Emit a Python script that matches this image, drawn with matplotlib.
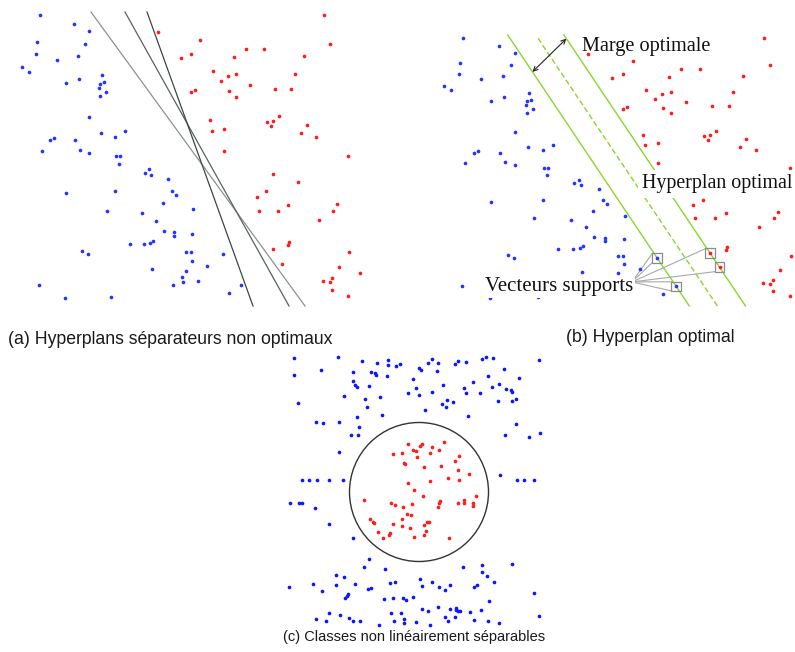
import numpy as np
import matplotlib.pyplot as plt
from matplotlib.patches import Circle

# ---------------------------------------------------------------------------
# Two-class data used in panels (a) and (b)  (feature space, arbitrary units)
# ---------------------------------------------------------------------------
blue_x = [40, 74, 89, 37, 85, 36, 78, 57, 22, 29, 102, 66, 79, 104, 100, 99, 106, 100,
          89, 101, 125, 115, 54, 50, 75, 42, 80, 89, 116, 120, 119, 149, 145, 151, 168,
          66, 115, 172, 176, 163, 193, 107, 142, 156, 164, 174, 174, 192, 130, 144, 150,
          153, 82, 88, 186, 191, 192, 152, 186, 182, 183, 173, 198, 39, 65, 111, 223,
          207, 241, 229]
blue_y = [295, 286, 279, 268, 266, 256, 254, 250, 243, 238, 235, 227, 231, 228, 226, 222,
          218, 214, 193, 177, 179, 173, 172, 170, 170, 159, 160, 157, 154, 154, 146, 141,
          137, 135, 131, 117, 119, 119, 115, 107, 101, 99, 97, 89, 79, 78, 74, 76, 66, 66,
          67, 69, 59, 56, 58, 58, 49, 41, 39, 33, 28, 25, 29, 25, 12, 13, 56, 44, 25, 17]

red_x = [158, 200, 191, 181, 195, 191, 324, 330, 246, 264, 234, 304, 213, 228, 236, 221,
         295, 250, 229, 275, 291, 236, 210, 212, 224, 267, 273, 271, 279, 307, 301, 316,
         224, 348, 273, 298, 266, 257, 259, 278, 288, 337, 333, 319, 289, 288, 273, 349,
         282, 339, 360, 332, 323, 330, 332, 348]
red_y = [278, 270, 256, 252, 220, 218, 295, 266, 261, 261, 253, 254, 239, 234, 236, 229,
         236, 225, 219, 221, 221, 213, 190, 179, 181, 188, 189, 184, 194, 185, 177, 173,
         159, 154, 136, 128, 119, 113, 99, 99, 105, 106, 99, 90, 68, 65, 61, 58, 46, 43,
         37, 32, 29, 28, 20, 14]

# Arbitrary (non-optimal) separating lines of panel (a): endpoints
naive_x0 = [91, 125, 147]
naive_y0 = [298, 298, 298]
naive_x1 = [305, 289, 253]
naive_y1 = [4, 4, 4]

# Optimal hyperplane y = slope * x + c and its margins
slope = -1.72
c_blue = 439.6
c_mid = 485.2
c_red = 530.8
margin_y = [3.7, 298.3]

# Support vectors
sv_blue_x = [223, 241]
sv_blue_y = [56, 25]
sv_red_x = [273, 282]
sv_red_y = [61, 46]

# ---------------------------------------------------------------------------
# Non linearly separable classes, panel (c)
# ---------------------------------------------------------------------------
ring_x = [-125, -81, -57, -42, -31, -31, -23, -19, -125, -98, -66, -48, -44, -43, -32, -6,
          -66, -64, -62, -50, -11, -75, -39, -54, -121, -52, -37, -62, -103, -96, -80, -60,
          -68, -61, -80, 13, 9, 19, 0, 2, 18, 39, 36, 47, 63, 67, 74, 120, 85, 69, 100, 54,
          24, -3, 45, 73, 80, 87, 92, 93, 13, 0, 47, 61, 97, 93, 79, 28, 34, 23, 27, 6, 49,
          97, 121, 86, 110,
          -117, -110, -102, -90, -76, 81, 98, 105, 115, -129, -120, -117, -104, -90, -66,
          -50, -55, -34, -83, -75, -130, -106, -83, -64, -97, -51, -48, -71, -72, -74, -29,
          -24, -35, -26, -16, -13, -6, -90, -79, -70, -103, -93, -66, -59, -40, -28, -18,
          -25, -15, -15, 44, 63, 93, 63, 68, 75, 1, 13, 3, 20, 26, 31, 55, 58, 115, 70, 3,
          9, 19, 31, 37, 37, 39, 41, 51, 62, 26, 36, 120, -3, 11, 29, 55, 69, 80]
ring_y = [134, 135, 131, 129, 132, 127, 126, 128, 117, 122, 120, 120, 119, 117, 116, 113,
          111, 107, 105, 106, 99, 96, 95, 93, 89, 85, 77, 75, 70, 69, 70, 65, 57, 57, 40,
          133, 129, 129, 124, 122, 121, 131, 128, 130, 133, 135, 134, 132, 123, 116, 114,
          110, 107, 104, 104, 105, 108, 103, 102, 100, 100, 97, 99, 99, 93, 91, 91, 92, 90,
          88, 85, 82, 76, 68, 59, 57, 55,
          12, 12, 12, 12, 12, 17, 12, 12, 12, -11, -11, -11, -16, -32, -46,
          -67, -75, -77, -83, -85, -95, -92, -93, -92, -99, -97, -96, -102, -104, -106, -91,
          -90, -107, -106, -106, -108, -105, -121, -123, -126, -127, -129, -129, -129, -133,
          -121, -121, -129, -127, -131, -75, -73, -72, -80, -84, -90, -87, -90, -94, -95,
          -98, -93, -95, -93, -101, -109, -117, -119, -115, -117, -116, -118, -119, -119,
          -120, -118, -125, -125, -124, -130, -133, -129, -128, -129, -131]

core_x = [-11, -26, -17, -6, -15, -14, -11, 25, 3, 1, 13, -3, 20, 11, 40, -2, 36, 5, 22,
          39, 50, 29, 40, 11, -5, -55, -28, -24, -16, -7, -12, -8, -17, -49, -46, -45, -26,
          -17, -9, -41, -29, -30, -36, -5, 4, 57, 21, 20, 39, 45, 45, 54, 54, 19, 8, 10, 5,
          7, 5, 30]
core_y = [48, 38, 39, 42, 29, 28, 9, 50, 48, 46, 45, 41, 42, 39, 36, 35, 31, 25, 26, 22,
          18, 14, 12, 11, 2, -8, -11, -13, -15, -12, -22, -23, -27, -27, -30, -31, -32, -34,
          -36, -40, -41, -43, -46, -45, -4, -4, -9, -11, -11, -8, -11, -11, -14, -15, -30,
          -30, -33, -39, -43, -46]

circle_radius = 69.5

# ---------------------------------------------------------------------------
W, H = 795, 652
fig = plt.figure(figsize=(W / 100, H / 100), dpi=100)

BLUE = '#2236ff'
RED = '#ff1c1c'
GREEN = '#8ad62c'


def px_axes(left, top, width, height):
    a = fig.add_axes([left / W, 1 - (top + height) / H, width / W, height / H])
    a.set_axis_off()
    return a


def fig_text(x, y, s, **kw):
    return fig.text(x / W, 1 - y / H, s, va='center', ha='left', **kw)


# ----- (a) non-optimal separating hyperplanes -----
ax_a = px_axes(0, 0, 380, 310)
ax_a.set_xlim(0, 380)
ax_a.set_ylim(0, 310)
ax_a.scatter(blue_x, blue_y, s=7, c=BLUE, linewidths=0, zorder=3)
ax_a.scatter(red_x, red_y, s=7, c=RED, linewidths=0, zorder=3)
for x0, y0, x1, y1, col in zip(naive_x0, naive_y0, naive_x1, naive_y1,
                               ['#8a938f', '#58625f', '#3e4644']):
    ax_a.plot([x0, x1], [y0, y1], color=col, lw=0.9, zorder=2)

# ----- (b) optimal hyperplane -----
ax_b = px_axes(420, 0, 410, 310)
ax_b.set_xlim(-0.6, 386.2)
ax_b.set_ylim(-0.7, 336.3)
ax_b.scatter(blue_x, blue_y, s=7, c=BLUE, linewidths=0, zorder=3)
ax_b.scatter(red_x, red_y, s=7, c=RED, linewidths=0, zorder=3)

ys = np.array(margin_y)
for c, ls in [(c_blue, '-'), (c_mid, (0, (4, 2))), (c_red, '-')]:
    yy = ys.copy()
    if c == c_mid:
        yy[1] = 296.0
    ax_b.plot((yy - c) / slope, yy, color=GREEN, lw=1.0, ls=ls, zorder=2)

# margin arrow between the two margin hyperplanes
xa, xb = 105.5, 137.5
ax_b.annotate('', xy=(xb, slope * xb + c_red), xytext=(xa, slope * xa + c_blue),
              arrowprops=dict(arrowstyle='<->', color='#222222', lw=0.8,
                              shrinkA=0, shrinkB=0, mutation_scale=8), zorder=4)

# support vector boxes
sv_x = sv_blue_x + sv_red_x
sv_y = sv_blue_y + sv_red_y
ax_b.scatter(sv_x, sv_y, s=48, marker='s', facecolors='none', edgecolors='#8c8c8c',
             linewidths=0.9, zorder=4)

# callout lines from the label to the support vector boxes
apex = (199.4, 29.8)
hx, hy = 4.3, 5.0
corners = [(sv_blue_x[0] - hx, sv_blue_y[0] + hy), (sv_blue_x[0] - hx, sv_blue_y[0] - hy),
           (sv_blue_x[1] - hx, sv_blue_y[1] + hy), (sv_blue_x[1] - hx, sv_blue_y[1] - hy),
           (sv_red_x[0] - hx, sv_red_y[0] + hy), (sv_red_x[1] - hx, sv_red_y[1] - hy)]
for cx, cy in corners:
    ax_b.plot([apex[0], cx], [apex[1], cy], color='#a8a8a8', lw=0.8, zorder=2)

serif = dict(family='Liberation Serif', color='#111111')
fig_text(582, 47, 'Marge optimale', fontsize=14.6, **serif)
fig_text(642, 184, 'Hyperplan optimal', fontsize=14.4,
         bbox=dict(facecolor='white', edgecolor='none', pad=3), **serif)
fig_text(485, 287, 'Vecteurs supports', fontsize=15,
         bbox=dict(facecolor='white', edgecolor='none', pad=1), **serif)

# ----- (c) non linearly separable classes -----
ax_c = px_axes(280, 350, 270, 280)
ax_c.set_xlim(-139, 131)
ax_c.set_ylim(-138, 142)
ax_c.scatter(ring_x, ring_y, s=7, c='#0b18ff', linewidths=0, zorder=3)
ax_c.scatter(core_x, core_y, s=7, c=RED, linewidths=0, zorder=3)
ax_c.add_patch(Circle((0, 0), circle_radius, fill=False, ec='#333333', lw=1.0, zorder=2))

# ----- captions -----
cap = dict(family='Liberation Sans', color='#1a1a1a')
fig_text(8, 340, '(a) Hyperplans séparateurs non optimaux', fontsize=12.7, **cap)
fig_text(566, 337, '(b) Hyperplan optimal', fontsize=12.7, **cap)
fig_text(283, 637, '(c) Classes non linéairement séparables', fontsize=10.5, **cap)

fig.savefig('out.png', dpi=100, facecolor='white')
